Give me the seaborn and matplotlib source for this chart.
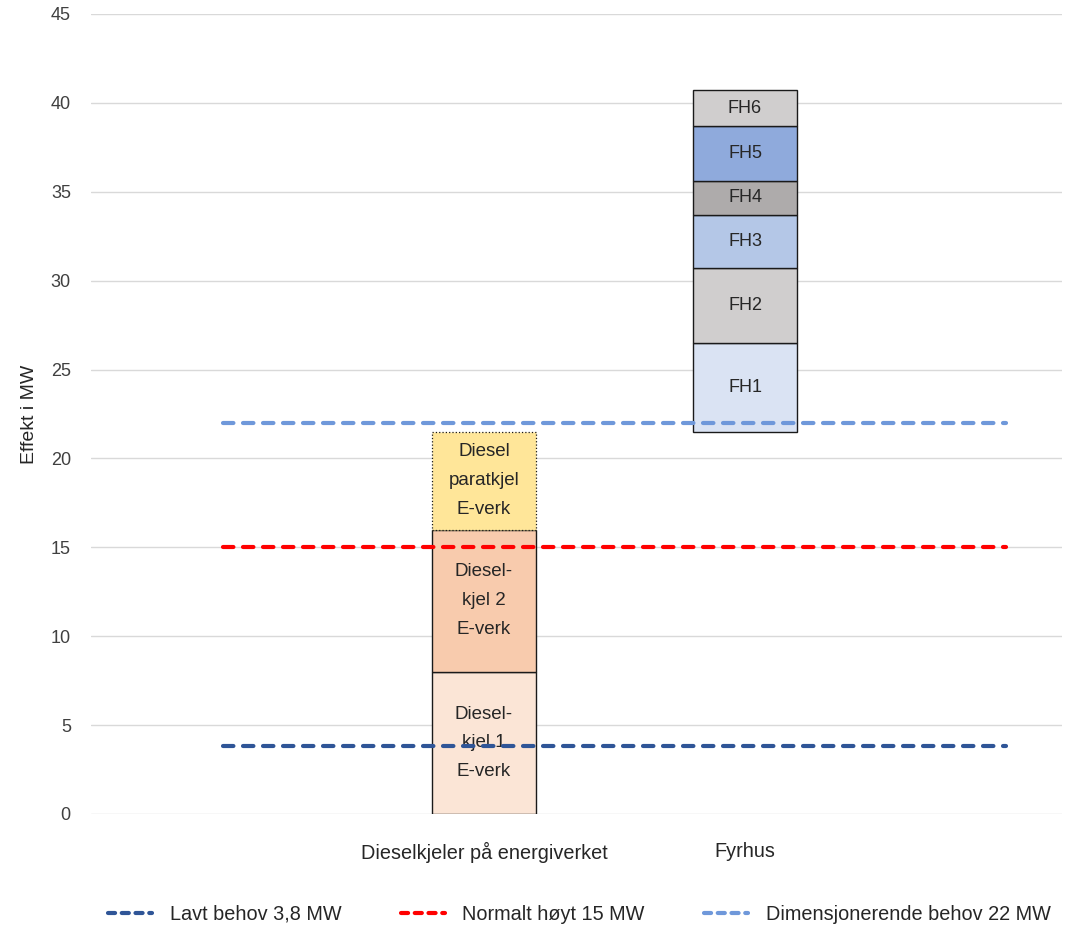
import matplotlib
matplotlib.use("Agg")
import matplotlib.pyplot as plt
from matplotlib.lines import Line2D
import seaborn as sns
import pandas as pd

# Category positions
categories = ["Dieselkjeler på energiverket", "Fyrhus"]
cat_pos = [1, 2]

# Diesel boilers at the energy plant (MW)
diesel_labels = ["Diesel-\nkjel 1\nE-verk", "Diesel-\nkjel 2\nE-verk", "Diesel\nparatkjel\nE-verk"]
diesel_values = [8.0, 8.0, 5.5]
diesel_colors = ["#FBE5D6", "#F8CBAD", "#FFE699"]
diesel_styles = ["-", "-", ":"]

# Boiler houses, stacked on top of the diesel capacity (MW)
fyrhus_base = 21.5
fyrhus_labels = ["FH1", "FH2", "FH3", "FH4", "FH5", "FH6"]
fyrhus_values = [5.0, 4.2, 3.0, 1.9, 3.1, 2.0]
fyrhus_colors = ["#DAE3F3", "#D0CECE", "#B4C7E7", "#AEABAB", "#8FAADC", "#D0CECE"]

# Demand levels (MW)
demand_names = ["Lavt behov 3,8 MW", "Normalt høyt 15 MW", "Dimensjonerende behov 22 MW"]
demand_values = [3.8, 15.0, 22.0]
demand_colors = ["#2F5597", "#FF0000", "#6F98DA"]
demand_x = [0, 3]

yticks = list(range(0, 50, 5))

sns.set_theme(style="whitegrid")
plt.rcParams["font.family"] = ["Liberation Sans", "DejaVu Sans"]

fig = plt.figure(figsize=(10.73, 9.25), dpi=100)
ax = fig.add_axes([91 / 1073, 1 - 814 / 925, (1062 - 91) / 1073, 800 / 925])

bar_w = 0.40
txt_color = "#262626"

# Diesel stack
bottom = 0.0
for lab, val, col, ls in zip(diesel_labels, diesel_values, diesel_colors, diesel_styles):
    ax.bar(cat_pos[0], val, bottom=bottom, width=bar_w, color=col,
           edgecolor="#1a1a1a", linewidth=1.0 if ls == "-" else 0.9,
           linestyle=ls, zorder=2)
    ax.text(cat_pos[0], bottom + val / 2, lab, ha="center", va="center",
            fontsize=13.5, color=txt_color, linespacing=1.9, zorder=3)
    bottom += val

# Boiler-house stack
bottom = fyrhus_base
for lab, val, col in zip(fyrhus_labels, fyrhus_values, fyrhus_colors):
    ax.bar(cat_pos[1], val, bottom=bottom, width=bar_w, color=col,
           edgecolor="#1a1a1a", linewidth=1.0, zorder=2)
    ax.text(cat_pos[1], bottom + val / 2, lab, ha="center", va="center",
            fontsize=13, color=txt_color, zorder=3)
    bottom += val

# Demand lines
dash = (0, (2.5, 2.3))
handles = []
for name, val, col in zip(demand_names, demand_values, demand_colors):
    df = pd.DataFrame({"x": demand_x, "y": [val, val]})
    sns.lineplot(data=df, x="x", y="y", ax=ax, color=col, linewidth=3.0,
                 linestyle=dash, dash_capstyle="round", zorder=4)
    handles.append(Line2D([0], [0], color=col, linewidth=3.0, linestyle=(0, (1.7, 1.6)),
                          dash_capstyle="round", label=name))

ax.set_xlim(-0.506, 3.2146)
ax.set_ylim(0, 45)
ax.set_yticks(yticks)
ax.set_xticks(cat_pos)
ax.set_xticklabels(categories)
ax.set_xlabel("")
ax.set_ylabel("Effekt i MW", fontsize=14, color=txt_color)
ax.yaxis.set_label_coords((38 - 91) / 971, 0.5)

ax.grid(axis="y", color="#D9D9D9", linewidth=1.0)
ax.grid(axis="x", visible=False)
for s in ax.spines.values():
    s.set_visible(False)
ax.tick_params(axis="y", length=0, pad=14.5, labelsize=13, labelcolor="#404040")
ax.tick_params(axis="x", length=0, pad=20, labelsize=14.3, labelcolor="#262626")
ax.set_facecolor("white")

fig.legend(handles=handles, loc="center", bbox_to_anchor=(0.54, 1 - 914 / 925),
           ncol=3, frameon=False, fontsize=14.3, handlelength=2.2,
           handletextpad=0.9, columnspacing=3.0, labelcolor="#262626")

fig.savefig("out.png", dpi=100, facecolor="white")
